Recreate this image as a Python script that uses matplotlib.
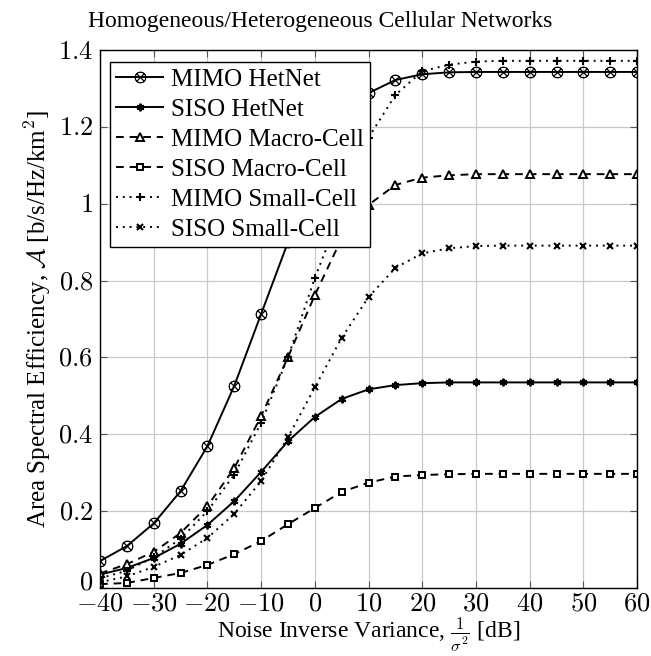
import matplotlib
matplotlib.use("Agg")
import matplotlib.pyplot as plt
import matplotlib.transforms as mtransforms

plt.rcParams['font.family'] = ['Liberation Serif', 'DejaVu Serif']
plt.rcParams['mathtext.fontset'] = 'cm'

# noise inverse variance [dB]
snr_db = [-40, -35, -30, -25, -20, -15, -10, -5, 0, 5, 10,
          15, 20, 25, 30, 35, 40, 45, 50, 55, 60]

mimo_hetnet = [0.070, 0.109, 0.168, 0.252, 0.369, 0.526, 0.713, 0.900, 1.085, 1.215, 1.288,
               1.322, 1.337, 1.342, 1.343, 1.343, 1.343, 1.343, 1.343, 1.343, 1.343]
siso_hetnet = [0.035, 0.052, 0.078, 0.115, 0.164, 0.226, 0.302, 0.382, 0.445, 0.492, 0.517,
               0.528, 0.533, 0.535, 0.535, 0.535, 0.535, 0.535, 0.535, 0.535, 0.535]
mimo_macro = [0.038, 0.062, 0.094, 0.143, 0.213, 0.312, 0.447, 0.601, 0.762, 0.910, 0.997,
              1.049, 1.068, 1.074, 1.077, 1.077, 1.077, 1.077, 1.077, 1.077, 1.077]
siso_macro = [0.010, 0.013, 0.026, 0.039, 0.060, 0.088, 0.122, 0.166, 0.208, 0.250, 0.274,
              0.290, 0.294, 0.296, 0.297, 0.297, 0.297, 0.297, 0.297, 0.297, 0.297]
mimo_small = [0.025, 0.045, 0.080, 0.128, 0.200, 0.295, 0.430, 0.600, 0.807, 0.985, 1.172,
              1.283, 1.345, 1.362, 1.370, 1.372, 1.372, 1.372, 1.372, 1.372, 1.372]
siso_small = [0.015, 0.030, 0.055, 0.086, 0.130, 0.193, 0.278, 0.392, 0.522, 0.651, 0.757,
              0.833, 0.871, 0.884, 0.890, 0.891, 0.891, 0.891, 0.891, 0.891, 0.891]

x_ticks = [-40, -30, -20, -10, 0, 10, 20, 30, 40, 50, 60]
y_ticks = [0, 0.2, 0.4, 0.6, 0.8, 1.0, 1.2, 1.4]
y_tick_labels = ['0', '0.2', '0.4', '0.6', '0.8', '1', '1.2', '1.4']

fig = plt.figure(figsize=(6.51, 6.56), dpi=100)
ax = fig.add_axes([0.1536, 0.1037, 0.825, 0.820])

lw = 1.4
dash = (0, (4, 3))
dot = (0, (1, 2.5))
ax.plot(snr_db, mimo_hetnet, color='black', lw=lw, ls='-', marker=r'$\otimes$',
        ms=8, mew=0.5, label='MIMO HetNet')
ax.plot(snr_db, siso_hetnet, color='black', lw=lw, ls='-', marker=(6, 2, 0),
        ms=5.5, mew=1.4, label='SISO HetNet')
ax.plot(snr_db, mimo_macro, color='black', lw=lw, ls=dash, marker='^',
        ms=5.5, mfc='white', mew=1.4, label='MIMO Macro-Cell')
ax.plot(snr_db, siso_macro, color='black', lw=lw, ls=dash, marker='s',
        ms=5, mfc='white', mew=1.4, label='SISO Macro-Cell')
ax.plot(snr_db, mimo_small, color='black', lw=lw, ls=dot, marker='+',
        ms=6, mew=1.5, label='MIMO Small-Cell')
ax.plot(snr_db, siso_small, color='black', lw=lw, ls=dot, marker='x',
        ms=4.5, mew=1.5, label='SISO Small-Cell')

ax.set_xlim(-40, 60)
ax.set_ylim(0, 1.4)
ax.set_xticks(x_ticks)
ax.set_xticklabels([f'${v}$' for v in x_ticks], fontsize=19)
ax.set_yticks(y_ticks)
ax.set_yticklabels([f'${v}$' for v in y_tick_labels], fontsize=19)
ax.tick_params(direction='in', top=True, right=True, length=5, width=0.8, color='#555555')
ax.tick_params(axis='x', pad=4)
ax.tick_params(axis='y', pad=5)
ax.grid(True, color='#c8c8c8', lw=0.9)
ax.set_axisbelow(True)
for sp in ax.spines.values():
    sp.set_linewidth(1.0)

# nudge the y "0" label up a little so it clears the "-40" below it
zero_lbl = ax.get_yticklabels()[0]
zero_lbl.set_transform(zero_lbl.get_transform() +
                       mtransforms.ScaledTranslation(0, 5 / 72, fig.dpi_scale_trans))

ax.set_xlabel(r'Noise Inverse Variance, $\frac{1}{\sigma^2}$ [dB]', fontsize=17, labelpad=0)
ax.set_ylabel(r'Area Spectral Efficiency, $\mathcal{A}$ [b/s/Hz/km$^2$]', fontsize=18, labelpad=4)
fig.text(0.492, 0.967, 'Homogeneous/Heterogeneous Cellular Networks', ha='center', va='center',
         fontsize=17)

leg = ax.legend(loc='upper left', fontsize=18, frameon=True, fancybox=False, edgecolor='black',
                framealpha=1, handlelength=1.9, handletextpad=0.3, borderpad=0.25,
                labelspacing=0.3, borderaxespad=0.0, bbox_to_anchor=(0.018, 0.977))
leg.get_frame().set_linewidth(1.0)
leg.set_zorder(10)

fig.savefig('out.png', dpi=100)
